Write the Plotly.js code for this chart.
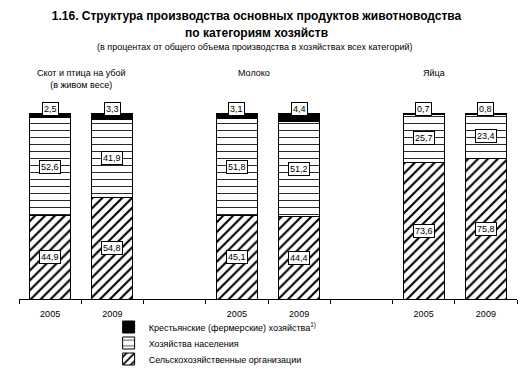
<!DOCTYPE html>
<html>
<head>
<meta charset="utf-8">
<script src="https://cdn.plot.ly/plotly-3.0.1.min.js"></script>
<style>html,body{margin:0;padding:0;background:#fff;}#chart{width:530px;height:371px;}</style>
</head>
<body>
<div id="chart"></div>
<script>
// ---- data ----
var groups = ["Скот и птица на убой<br>(в живом весе)", "Молоко", "Яйца"];
var years = ["2005", "2009"];
var agriOrgs = [44.9, 54.8, 45.1, 44.4, 73.6, 75.8];     // Сельскохозяйственные организации
var households = [52.6, 41.9, 51.8, 51.2, 25.7, 23.4];   // Хозяйства населения
var farms = [2.5, 3.3, 3.1, 4.4, 0.7, 0.8];              // Крестьянские (фермерские) хозяйства
var seriesNames = ["Сельскохозяйственные организации", "Хозяйства населения", "Крестьянские (фермерские) хозяйства<sup>1)</sup>"];

// ---- categories: each group gets two year slots; an empty slot between groups ----
var cats = [], catLabels = [], barCats = [], groupFirstIdx = [];
groups.forEach(function (g, gi) {
  groupFirstIdx.push(cats.length);
  years.forEach(function (y) {
    var key = "g" + gi + "_" + y;
    cats.push(key); catLabels.push(y); barCats.push(key);
  });
  if (gi < groups.length - 1) { cats.push("gap" + gi); catLabels.push(""); }
});

var FONT = "Liberation Sans, Arial, sans-serif";
function fmt(v) { return v.toFixed(1).replace(".", ","); }

var traces = [
  {type: "bar", name: seriesNames[0], x: barCats, y: agriOrgs, legend: "legend3",
   marker: {color: "white", line: {color: "black", width: 1},
            pattern: {shape: "/", fgcolor: "black", bgcolor: "white", size: 7, solidity: 0.3}}},
  {type: "bar", name: seriesNames[1], x: barCats, y: households, legend: "legend2",
   marker: {color: "white", line: {color: "black", width: 1},
            pattern: {shape: "-", fgcolor: "black", bgcolor: "white", size: 7, solidity: 0.12}}},
  {type: "bar", name: seriesNames[2], x: barCats, y: farms, legend: "legend",
   marker: {color: "black", line: {color: "black", width: 1}}}
];

var annotations = [];
// value labels in boxes
barCats.forEach(function (c, i) {
  var box = {xref: "x", yref: "y", x: c, showarrow: false,
             font: {family: FONT, size: 9, color: "black"},
             bgcolor: "white", bordercolor: "black", borderwidth: 1, borderpad: 1};
  annotations.push(Object.assign({}, box, {y: agriOrgs[i] / 2, text: fmt(agriOrgs[i])}));
  annotations.push(Object.assign({}, box, {y: agriOrgs[i] + households[i] / 2, text: fmt(households[i])}));
  annotations.push(Object.assign({}, box, {y: agriOrgs[i] + households[i] + farms[i], yshift: 4, text: fmt(farms[i])}));
});
// group headers
var groupX = [0.5, groupFirstIdx[1] + 0.27, groupFirstIdx[2] + 0.17];
groups.forEach(function (g, gi) {
  annotations.push({xref: "x", yref: "paper", x: groupX[gi], y: 1.255, yanchor: "top",
                    showarrow: false, text: g, align: "center",
                    font: {family: FONT, size: 9, color: "black"}});
});
// title second line and subtitle
annotations.push({xref: "paper", yref: "paper", x: 0.476, y: 1.432, yanchor: "middle",
                  showarrow: false, text: "<b>по категориям хозяйств</b>",
                  font: {family: FONT, size: 12, color: "black"}});
annotations.push({xref: "paper", yref: "paper", x: 0.474, y: 1.355, yanchor: "middle",
                  showarrow: false,
                  text: "(в процентах от общего объема производства в хозяйствах всех категорий)",
                  font: {family: FONT, size: 9, color: "black"}});

var legendBase = {x: 0.18, xanchor: "left", yanchor: "middle",
                  font: {family: FONT, size: 9, color: "black"},
                  bgcolor: "rgba(0,0,0,0)", itemwidth: 30};

var layout = {
  width: 530, height: 371,
  margin: {l: 19, r: 13, t: 113, b: 72, autoexpand: false},
  paper_bgcolor: "white", plot_bgcolor: "white",
  barmode: "stack", bargap: 0.34,
  showlegend: true,
  title: {text: "<b>1.16. Структура производства основных продуктов животноводства</b>",
          font: {family: FONT, size: 12, color: "black"},
          x: 0.484, xref: "container", y: 1 - 16 / 371, yanchor: "middle"},
  xaxis: {type: "category", categoryorder: "array", categoryarray: cats,
          tickmode: "array", tickvals: cats, ticktext: catLabels,
          range: [-0.5, cats.length - 0.5],
          showline: true, linecolor: "black", linewidth: 1,
          ticks: "outside", tickson: "boundaries", ticklen: 4, tickcolor: "black",
          ticklabelstandoff: 6,
          showgrid: false, zeroline: false, fixedrange: true,
          tickfont: {family: FONT, size: 9, color: "black"}},
  yaxis: {range: [0, 100], visible: false, showgrid: false, zeroline: false},
  legend: Object.assign({}, legendBase, {y: -28 / 186}),
  legend2: Object.assign({}, legendBase, {y: -44 / 186}),
  legend3: Object.assign({}, legendBase, {y: -60 / 186}),
  annotations: annotations
};

Plotly.newPlot("chart", traces, layout, {displayModeBar: false, staticPlot: true});
</script>
</body>
</html>
